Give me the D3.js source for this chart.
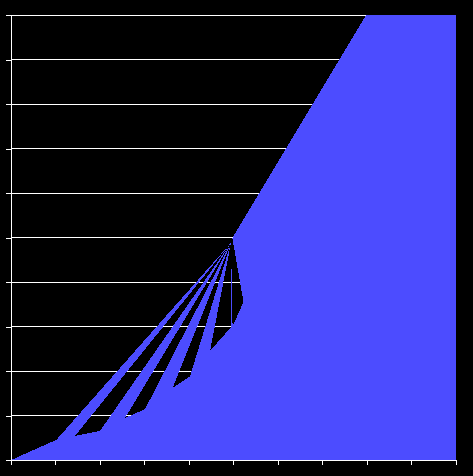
<!DOCTYPE html>
<html>
<head>
<meta charset="utf-8">
<script src="https://cdn.jsdelivr.net/npm/d3@7"></script>
<style>
  body { margin: 0; background: #000; }
</style>
</head>
<body>
<div id="chart"></div>
<script>
"use strict"

// Outline of the filled series, in data units (x, y)
const xValues = [0, 1.03, 4.95, 1.45, 2.01, 4.95, 2.57, 3.02, 4.95, 3.64, 4.03, 4.95, 4.48, 4.96, 4.95, 4.985, 5.23, 4.98, 7.98, 10];
const yValues = [0, 0.46, 4.89, 0.55, 0.66, 4.89, 0.95, 1.15, 4.89, 1.63, 1.89, 4.89, 2.46, 3.0, 4.89, 3.01, 3.56, 5.0, 10, 10];

const xTicks = [0, 1, 2, 3, 4, 5, 6, 7, 8, 9, 10];
const yTicks = [0, 1, 2, 3, 4, 5, 6, 7, 8, 9, 10];

const points = xValues.map((x, i) => ({x: x, y: yValues[i]}));

const width = 473, height = 476;
const plot = {left: 10.5, right: 456, top: 15.3, bottom: 460.3};

const x = d3.scaleLinear().domain([0, 10]).range([plot.left, plot.right]);
const y = d3.scaleLinear().domain([0, 10]).range([plot.bottom, plot.top]);

let svg = (
  d3.select('#chart')
    .append('svg')
    .attr('width', width)
    .attr('height', height)
    .style('display', 'block'));

// Gridlines, under the area
(svg.append('g')
  .selectAll('line')
    .data(yTicks.filter((d) => d > 0))
  .enter()
    .append('line')
      .attr('x1', plot.left)
      .attr('x2', plot.right)
      .attr('y1', (d) => y(d))
      .attr('y2', (d) => y(d))
      .attr('stroke', '#fff')
      .attr('stroke-width', 1)
      .attr('shape-rendering', 'crispEdges'));

// The area, drawn to the baseline with nonzero fill
const area = d3.area()
  .x((d) => x(d.x))
  .y0(y(0))
  .y1((d) => y(d.y));

(svg.append('path')
  .datum(points)
  .attr('d', area)
  .attr('fill', '#4c4cff')
  .attr('fill-rule', 'nonzero')
  .attr('shape-rendering', 'crispEdges'));

// Axes on top
let yAxis = d3.axisLeft(y).tickValues(yTicks).tickSize(5).tickFormat('');
let xAxis = d3.axisBottom(x).tickValues(xTicks).tickSize(5).tickFormat('');

let gy = svg.append('g').attr('transform', `translate(${plot.left},0)`).call(yAxis);
let gx = svg.append('g').attr('transform', `translate(0,${plot.bottom})`).call(xAxis);

for (let g of [gx, gy]) {
  g.select('.domain').attr('stroke', '#fff').attr('shape-rendering', 'crispEdges');
  g.selectAll('.tick line').attr('stroke', '#fff').attr('shape-rendering', 'crispEdges');
}
</script>
</body>
</html>
